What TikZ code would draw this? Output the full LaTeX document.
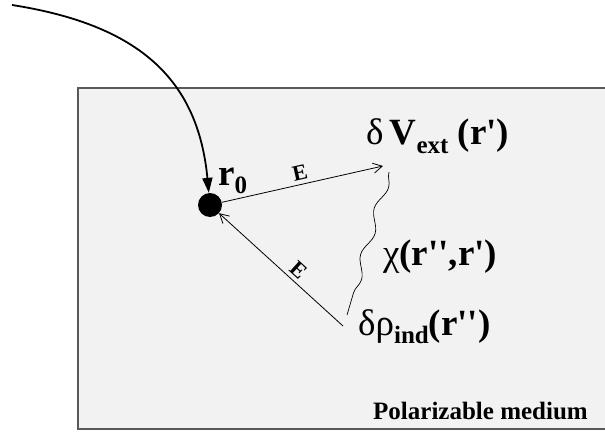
\documentclass[tikz,border=0pt]{standalone}
\usepackage{fontspec}
\setmainfont{Liberation Serif}
\usetikzlibrary{arrows.meta,decorations.pathmorphing}
\newcommand\lowsub[1]{\raisebox{-0.22em}{\fontsize{25}{26}\selectfont\bfseries #1}}
\newcommand\qs{\textquotesingle}

\begin{document}
\begin{tikzpicture}[
    x=1pt, y=-1pt,
    term/.style={font=\fontsize{37}{39}\selectfont\bfseries, inner sep=0pt, anchor=base west},
    field/.style={font=\fontsize{22}{23}\selectfont\bfseries, inner sep=0pt},
    arrow/.style={-{Straight Barb[length=9pt,width=10pt]}, line width=0.8pt},
    track/.style={-{Triangle[length=15pt,width=10pt]}, line width=1.8pt},
    wave/.style={decorate, decoration={snake, amplitude=4pt, segment length=48pt}, line width=0.7pt}
]
    \useasboundingbox (0,0) rectangle (605,433);
    \clip (0,0) rectangle (605,433);

    % medium
    \draw[fill=black!5, draw=black!65, line width=1.5pt] (78,88) rectangle (615,429);
    \node[anchor=base west, inner sep=0pt, font=\fontsize{25}{26}\selectfont\bfseries] (medium) at (373,419) {Polarizable medium};

    % charge and texts
    \node[circle, fill, minimum size=24pt, inner sep=0pt] (dot) at (210,205) {};
    \node[term] (rzero) at (218,185) {r\lowsub{0}};
    \node[term] (vext) at (366,145) {{\mdseries δ}\,V\lowsub{ext} (r\qs)};
    \node[term] (chi) at (383,265) {{\mdseries χ}(r\qs\qs,r\qs)};
    \node[term] (rhoind) at (358,335) {{\mdseries δρ}\lowsub{ind}(r\qs\qs)};

    \coordinate (start) at (12,5);
    \coordinate (vtip) at (383,166);
    \coordinate (wtop) at (389,172);
    \coordinate (wbot) at (347,315);
    \coordinate (rtail) at (343,326);

    \draw[track] (start) .. controls (140,25) and (198,80) .. (dot);
    \draw[arrow] (dot) -- (vtip) node[field, midway, above=4pt, sloped] (eup) {E};
    \draw[arrow] (rtail) -- (dot) node[field, pos=0.42, above=4pt, sloped] (elow) {E};
    \draw[wave] (wtop) -- (wbot);
\end{tikzpicture}
\end{document}
